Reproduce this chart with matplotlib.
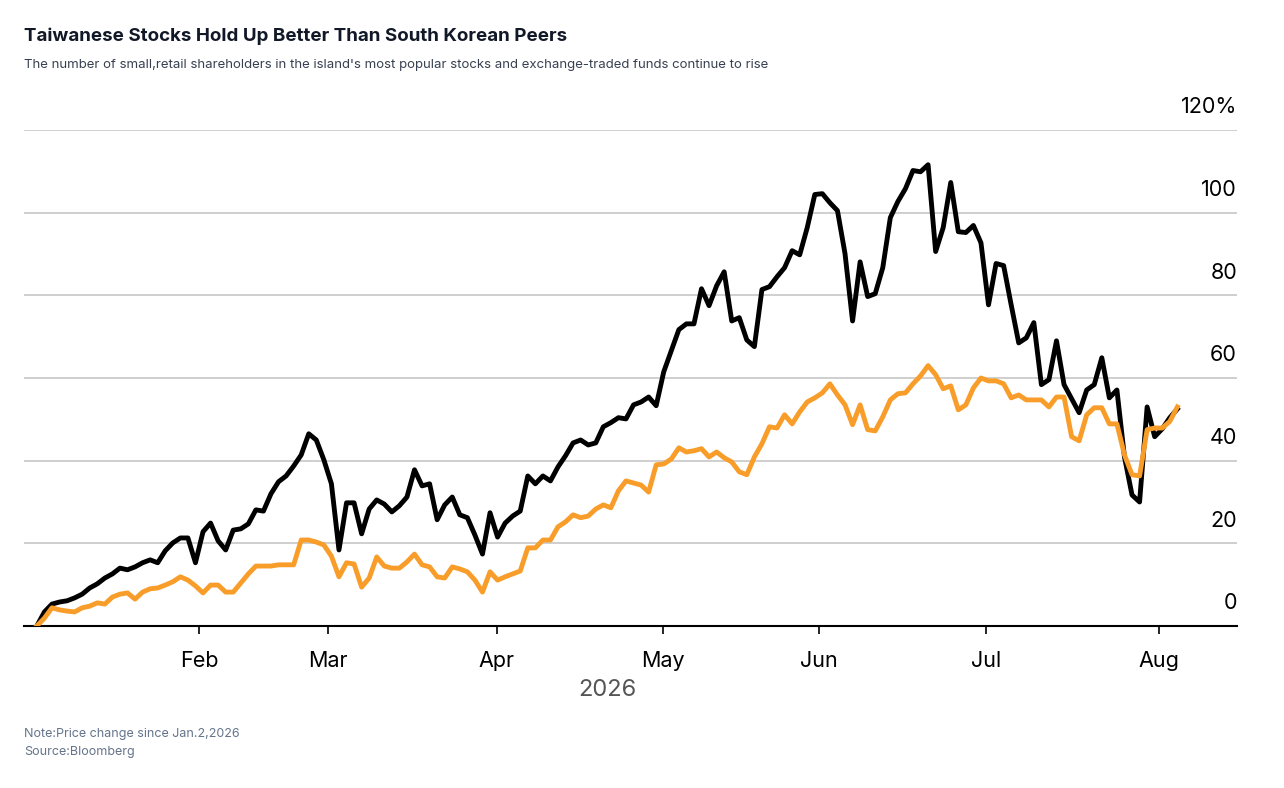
import numpy as np
import matplotlib.pyplot as plt

plt.rcParams['font.family'] = ['Inter', 'DejaVu Sans']

# price change since Jan 2, 2026 (%), one value per trading day
taiwan = [0, 3.4, 5.3, 5.8, 6.1, 6.8, 7.7, 9.2, 10.2, 11.6, 12.6, 14.0, 13.6, 14.3, 15.3, 16.0,
          15.3, 18.2, 20.1, 21.3, 21.3, 15.3, 22.8, 24.9, 20.6, 18.4, 23.2, 23.5, 24.7, 28.1, 27.8,
          32.0, 34.9, 36.3, 38.7, 41.4, 46.5, 45.0, 40.2, 34.4, 18.4, 29.8, 29.8, 22.3, 28.3, 30.5,
          29.5, 27.6, 29.1, 31.2, 37.8, 33.9, 34.4, 25.7, 29.3, 31.2, 26.9, 26.2, 22.0, 17.4, 27.4,
          21.5, 24.9, 26.6, 27.8, 36.3, 34.4, 36.3, 35.1, 38.5, 41.2, 44.3, 45.0, 43.8, 44.3, 48.2,
          49.2, 50.4, 50.1, 53.5, 54.2, 55.4, 53.3, 61.5, 66.6, 71.7, 73.1, 73.1, 81.6, 77.5, 82.3,
          85.7, 73.8, 74.6, 69.2, 67.6, 81.4, 82.1, 84.5, 86.7, 90.8, 89.8, 96.4, 104.4, 104.6,
          102.4, 100.5, 90.1, 73.8, 88.1, 79.7, 80.4, 86.7, 98.8, 102.7, 105.8, 110.2, 109.9, 111.6,
          90.6, 96.4, 107.3, 95.4, 95.2, 96.9, 92.7, 77.7, 87.7, 87.2, 77.7, 68.5, 69.7, 73.4, 58.4,
          59.6, 69.0, 58.4, 55.0, 51.6, 57.1, 58.4, 64.9, 55.2, 57.1, 40.9, 31.7, 30.0, 53.0, 45.8,
          47.7, 50.4, 52.5]
korea = [0, 1.9, 4.4, 3.9, 3.6, 3.4, 4.4, 4.8, 5.6, 5.3, 7.0, 7.7, 8.0, 6.5, 8.2, 9.0, 9.2, 9.9,
         10.7, 11.9, 11.1, 9.7, 8.0, 9.9, 9.9, 8.2, 8.2, 10.4, 12.6, 14.5, 14.5, 14.5, 14.8, 14.8,
         14.8, 20.8, 20.8, 20.3, 19.6, 16.9, 11.9, 15.3, 15.0, 9.4, 11.6, 16.7, 14.5, 14.0, 14.0,
         15.5, 17.4, 14.8, 14.3, 11.9, 11.6, 14.3, 13.8, 13.1, 11.1, 8.2, 13.1, 11.1, 11.9, 12.6,
         13.3, 18.9, 18.9, 20.8, 20.8, 24.0, 25.2, 26.9, 26.2, 26.6, 28.3, 29.3, 28.6, 32.7, 35.1,
         34.6, 34.1, 32.4, 39.0, 39.2, 40.4, 43.1, 42.1, 42.4, 42.9, 40.9, 42.1, 40.7, 39.7, 37.3,
         36.6, 40.9, 44.1, 48.2, 47.9, 51.1, 48.9, 51.8, 54.2, 55.2, 56.4, 58.6, 55.9, 53.5, 48.7,
         53.5, 47.5, 47.2, 50.6, 54.7, 56.2, 56.4, 58.6, 60.5, 63.0, 60.8, 57.4, 58.1, 52.3, 53.5,
         57.6, 60.0, 59.3, 59.3, 58.6, 55.2, 55.9, 54.7, 54.7, 54.7, 53.0, 55.4, 55.4, 45.8, 44.8,
         51.1, 52.8, 52.8, 48.9, 48.9, 41.4, 36.6, 36.3, 47.5, 47.9, 47.9, 49.5, 53.0]
months = ['Feb', 'Mar', 'Apr', 'May', 'Jun', 'Jul', 'Aug']
# month starts on the trading-day axis
month_pos = [21.5, 38.5, 60.9, 82.9, 103.6, 125.7, 148.6]
yticks = [0, 20, 40, 60, 80, 100, 120]

fig = plt.figure(figsize=(12.84, 7.88), dpi=100)
ax = fig.add_axes([0.0187, 0.2056, 0.9447, 0.6294])

ax.plot(np.arange(len(taiwan)), taiwan, color='black', lw=3.5, solid_joinstyle='round', zorder=3)
ax.plot(np.arange(len(korea)), korea, color='#f99d2a', lw=3.5, solid_joinstyle='round', zorder=4)

ax.set_xlim(-1.7, 158.9)
ax.set_ylim(0, 120)

ax.set_yticks(yticks)
ax.yaxis.grid(True, color='#cccccc', lw=1.3)
ax.tick_params(axis='y', length=0, labelleft=False)
for v in yticks:
    lab = f'{v}%' if v == 120 else str(v)
    ax.text(1.0, v + 5.5, lab, transform=ax.get_yaxis_transform(), ha='right', va='center',
            fontsize=15.5, color='black')

ax.set_xticks(month_pos)
ax.set_xticklabels(months)
ax.tick_params(axis='x', length=6, width=1.2, labelsize=15.5, pad=12)
for s in ['top', 'right', 'left']:
    ax.spines[s].set_visible(False)
ax.spines['bottom'].set_linewidth(1.5)
ax.set_axisbelow(True)

fig.text(0.473, 1 - 690 / 788, '2026', ha='center', va='center', fontsize=17, color='#555555')
fig.text(24 / 1284, 1 - 36 / 788, 'Taiwanese Stocks Hold Up Better Than South Korean Peers',
         fontsize=13.5, fontweight='bold', color='#111827', va='center')
fig.text(24 / 1284, 1 - 65 / 788,
         "The number of small,retail shareholders in the island's most popular stocks and exchange-traded funds continue to rise",
         fontsize=9.5, color='#374151', va='center')
fig.text(24 / 1284, 1 - 734 / 788, 'Note:Price change since Jan.2,2026', fontsize=9,
         color='#64748b', va='center')
fig.text(24 / 1284, 1 - 752 / 788, 'Source:Bloomberg', fontsize=9, color='#64748b', va='center')

fig.savefig('out.png', dpi=100, facecolor='white')
